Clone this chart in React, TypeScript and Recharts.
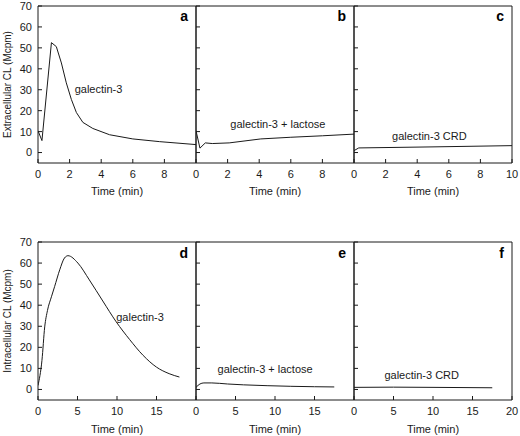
import React from 'react';
import { LineChart, Line, XAxis, YAxis, ReferenceDot, ReferenceArea } from 'recharts';

// Panel a-c: extracellular CL, 0-10 min
const aTime = [0, 0.25, 0.85, 1.16, 1.48, 1.79, 2.11, 2.43, 2.84, 3.47, 4.53, 6.0, 7.7, 10];
const aSignal = [10.4, 5.7, 52.5, 50.6, 42.8, 33.3, 25.4, 19.1, 14.4, 11.5, 8.5, 6.5, 5.2, 3.8];

const bTime = [0, 0.25, 0.59, 1.03, 2.1, 4.1, 6, 8, 10];
const bSignal = [10.4, 2.1, 4.6, 4.3, 4.6, 6.5, 7.3, 8.0, 8.8];

const cTime = [0, 0.3, 5, 10];
const cSignal = [0.9, 2.2, 2.7, 3.3];

// Panel d-f: intracellular CL, 0-20 min
const dTime = [0, 0.5, 0.85, 1.2, 1.7, 2.1, 2.75, 3.35, 3.8, 5.05, 6.5, 8.2, 9.9, 11.6, 13.3, 15, 16.6, 17.9];
const dSignal = [1.9, 13.8, 29.7, 37.5, 44, 48.8, 56.8, 62.4, 63.5, 60, 52, 42, 32.1, 23.7, 16.2, 10.6, 7.5, 5.9];

const eTime = [0, 0.5, 1, 2, 4, 6, 9, 12, 15, 17.5];
const eSignal = [1.0, 2.6, 3.1, 3.1, 2.6, 2.2, 1.8, 1.5, 1.3, 1.2];

const fTime = [0, 5, 10, 17.5];
const fSignal = [1.0, 1.1, 1.0, 0.8];

const yTicks = [0, 10, 20, 30, 40, 50, 60, 70];
const shortTicksTop = [0, 2, 4, 6, 8];
const fullTicksTop = [0, 2, 4, 6, 8, 10];
const shortTicksBottom = [0, 5, 10, 15];
const fullTicksBottom = [0, 5, 10, 15, 20];

const toRows = (t: number[], v: number[]) => t.map((x, i) => ({ t: x, v: v[i] }));

const PLOT_W = 158;
const Y_AXIS_W = 38;
const X_AXIS_H = 36;
const X_GAP = 7;
const Y_GAP = 6;
const TICK_LEN = 4;
const INK = '#1a1a1a';
const FONT = '"Liberation Sans", Arial, Helvetica, sans-serif';

// tick marks point into the plot, as in the original figure
const XTick = ({ x, y, payload }: any) => {
  const axisY = y - X_GAP;
  return (
    <g>
      <line x1={x} x2={x} y1={axisY} y2={axisY - TICK_LEN} stroke={INK} />
      <text x={x} y={y} dy="0.72em" textAnchor="middle" fill={INK} fontSize={11}>
        {payload.value}
      </text>
    </g>
  );
};

const makeYTick = (showLabel: boolean) => ({ x, y, payload }: any) => {
  const axisX = x + Y_GAP;
  return (
    <g>
      <line x1={axisX} x2={axisX + TICK_LEN} y1={y} y2={y} stroke={INK} />
      {showLabel && (
        <text x={x} y={y} dy="0.36em" textAnchor="end" fill={INK} fontSize={11}>
          {payload.value}
        </text>
      )}
    </g>
  );
};

interface PanelProps {
  left: number;
  top: number;
  height: number;
  rows: { t: number; v: number }[];
  xMax: number;
  xTicks: number[];
  letter: string;
  note: string;
  noteAt: [number, number];
  curve: 'linear' | 'monotone';
  yLabel?: string;
  titleOffset: number;
}

function Panel({ left, top, height, rows, xMax, xTicks, letter, note, noteAt, curve, yLabel, titleOffset }: PanelProps) {
  const first = !!yLabel;
  const axisW = first ? Y_AXIS_W : 1;
  const width = axisW + PLOT_W + 1;
  return (
    <div style={{ position: 'absolute', left: left - axisW, top: top - 1 }}>
      <LineChart width={width} height={height + X_AXIS_H + 1} data={rows} margin={{ top: 1, right: 1, left: 0, bottom: 0 }}>
        <XAxis
          type="number"
          dataKey="t"
          domain={[0, xMax]}
          ticks={xTicks}
          interval={0}
          allowDataOverflow
          height={X_AXIS_H}
          axisLine={false}
          tickLine={false}
          tickSize={0}
          tickMargin={X_GAP}
          tick={<XTick />}
          label={{ value: 'Time (min)', position: 'insideBottom', offset: titleOffset, fill: INK, fontSize: 11 }}
        />
        <YAxis
          type="number"
          domain={[-5, 70]}
          ticks={yTicks}
          interval={0}
          allowDataOverflow
          width={axisW}
          axisLine={false}
          tickLine={false}
          tickSize={0}
          tickMargin={Y_GAP}
          tick={makeYTick(first)}
          label={
            first
              ? { value: yLabel, angle: -90, position: 'insideLeft', offset: 7, fill: INK, fontSize: 10, style: { textAnchor: 'middle' } }
              : undefined
          }
        />
        <ReferenceArea x1={0} x2={xMax} y1={-5} y2={70} fill="none" stroke={INK} strokeWidth={1} />
        <Line type={curve} dataKey="v" stroke={INK} strokeWidth={1} dot={false} isAnimationActive={false} />
        <ReferenceDot
          x={noteAt[0]}
          y={noteAt[1]}
          r={0}
          fill="none"
          stroke="none"
          label={{ value: note, position: 'right', offset: 0, fill: INK, fontSize: 11 }}
        />
        <ReferenceDot
          x={xMax}
          y={65}
          r={0}
          fill="none"
          stroke="none"
          label={{ value: letter, position: 'left', offset: 8, fill: '#000', fontSize: 14, fontWeight: 'bold' }}
        />
      </LineChart>
    </div>
  );
}

export default function App() {
  const topY = 6;
  const topH = 157;
  const botY = 242;
  const botH = 158;
  const cols = [38, 196, 354];
  return (
    <div style={{ position: 'absolute', left: 0, top: 0, width: 520, height: 436, background: '#fff', fontFamily: FONT }}>
      <style>{'.recharts-surface { overflow: visible; }'}</style>
      <Panel left={cols[0]} top={topY} height={topH} rows={toRows(aTime, aSignal)} xMax={10} xTicks={shortTicksTop}
        letter="a" note="galectin-3" noteAt={[2.32, 30.1]} curve="linear" yLabel="Extracellular CL (Mcpm)" titleOffset={4} />
      <Panel left={cols[1]} top={topY} height={topH} rows={toRows(bTime, bSignal)} xMax={10} xTicks={shortTicksTop}
        letter="b" note="galectin-3 + lactose" noteAt={[2.17, 13.6]} curve="linear" titleOffset={4} />
      <Panel left={cols[2]} top={topY} height={topH} rows={toRows(cTime, cSignal)} xMax={10} xTicks={fullTicksTop}
        letter="c" note="galectin-3 CRD" noteAt={[2.41, 7.9]} curve="linear" titleOffset={4} />
      <Panel left={cols[0]} top={botY} height={botH} rows={toRows(dTime, dSignal)} xMax={20} xTicks={shortTicksBottom}
        letter="d" note="galectin-3" noteAt={[9.9, 34.5]} curve="monotone" yLabel="Intracellular CL (Mcpm)" titleOffset={3} />
      <Panel left={cols[1]} top={botY} height={botH} rows={toRows(eTime, eSignal)} xMax={20} xTicks={shortTicksBottom}
        letter="e" note="galectin-3 + lactose" noteAt={[2.73, 9.9]} curve="monotone" titleOffset={3} />
      <Panel left={cols[2]} top={botY} height={botH} rows={toRows(fTime, fSignal)} xMax={20} xTicks={fullTicksBottom}
        letter="f" note="galectin-3 CRD" noteAt={[3.85, 6.7]} curve="linear" titleOffset={3} />
    </div>
  );
}
